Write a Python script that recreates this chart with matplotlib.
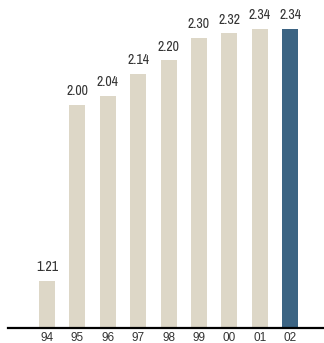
import matplotlib.pyplot as plt
from matplotlib import font_manager

years = ["94", "95", "96", "97", "98", "99", "00", "01", "02"]
values = [1.21, 2.00, 2.04, 2.14, 2.20, 2.30, 2.32, 2.34, 2.34]
labels = ["1.21", "2.00", "2.04", "2.14", "2.20", "2.30", "2.32", "2.34", "2.34"]

names = sorted({f.name for f in font_manager.fontManager.ttflist})
narrow = [n for n in names if "Narrow" in n or "Condensed" in n]
fam = narrow[0] if narrow else "DejaVu Sans"
plt.rcParams['font.family'] = [fam, 'DejaVu Sans']
plt.rcParams['font.stretch'] = 'condensed'

beige = "#DDD7C7"
blue = "#3C6483"
colors = [beige] * (len(values) - 1) + [blue]

fig = plt.figure(figsize=(3.24, 3.43), dpi=100)
ax = fig.add_axes([8 / 324, 1 - 328 / 343, 316 / 324, 328 / 343])

x = list(range(len(values)))
ax.bar(x, values, width=0.53, color=colors, bottom=0)
for xi, v, t in zip(x, values, labels):
    ax.text(xi, v + 0.03, t, ha="center", va="bottom", fontsize=10, color="#333333")

ax.set_ylim(1.0, 2.47)
ax.set_xlim(-1.28, 9.11)
ax.set_xticks(x)
ax.set_xticklabels(years, fontsize=8.5, color="#333333",
                   family=["Liberation Sans", "DejaVu Sans"], stretch="normal")
ax.tick_params(axis="x", length=0, pad=3)
ax.set_yticks([])
for s in ["left", "right", "top"]:
    ax.spines[s].set_visible(False)
ax.spines["bottom"].set_linewidth(1.6)
ax.spines["bottom"].set_color("black")

fig.savefig("out.png", dpi=100)
